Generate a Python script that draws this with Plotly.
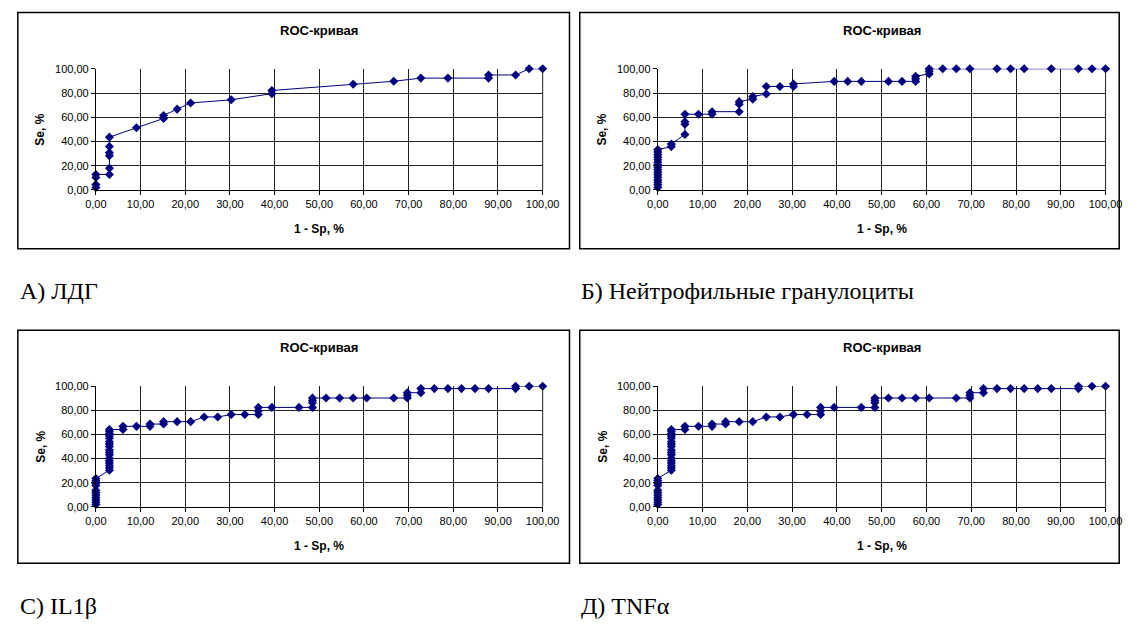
import plotly.graph_objects as go

# ---- data ----
ldg_x = [0, 0, 0, 0, 3.03, 3.03, 3.03, 3.03, 3.03, 3.03, 9.09, 15.15, 15.15, 18.18, 21.21,
         30.30, 39.39, 39.39, 57.58, 66.67, 72.73, 78.79, 87.88, 87.88, 93.94, 96.97, 100]
ldg_y = [2.0, 4.5, 10.3, 12.8, 12.8, 17.9, 28.2, 30.8, 35.9, 43.6, 51.3, 59.0, 61.5, 66.7, 71.8,
         74.4, 79.5, 82.1, 87.2, 89.7, 92.3, 92.3, 92.3, 94.9, 94.9, 100, 100]

neu_x = [0] * 16 + [3.03, 3.03, 6.06, 6.06, 6.06, 6.06, 9.09, 12.12, 12.12, 18.18, 18.18, 18.18,
                    21.21, 21.21, 24.24, 24.24, 27.27, 30.30, 30.30, 39.39, 42.42, 45.45, 51.52,
                    54.55, 57.58, 57.58, 57.58, 60.61, 60.61, 60.61, 63.64, 66.67, 69.70, 75.76,
                    78.79, 81.82, 87.88, 93.94, 96.97, 100]
neu_y = [2.1, 4.2, 6.3, 8.3, 10.4, 12.5, 14.6, 16.7, 18.8, 20.8, 22.9, 25.0, 27.1, 29.2, 31.3, 33.3,
         35.8, 37.9, 45.8, 54.2, 56.3, 62.5, 62.5, 62.5, 64.6, 64.6, 70.8, 72.9,
         75.0, 77.1, 79.2, 85.4, 85.4, 85.4, 87.5, 89.6, 89.6, 89.6, 89.6,
         89.6, 89.6, 91.7, 93.8, 95.8, 97.9, 100, 100, 100, 100, 100,
         100, 100, 100, 100, 100, 100]

il1_x = [0] * 11 + [3.03] * 17 + [6.06, 6.06, 9.09, 12.12, 12.12, 15.15, 15.15, 18.18, 21.21,
                                  24.24, 27.27, 30.30, 33.33, 36.36, 36.36, 36.36, 39.39, 45.45,
                                  48.48, 48.48, 48.48, 48.48, 51.52, 54.55, 57.58, 60.61, 66.67,
                                  69.70, 69.70, 69.70, 72.73, 72.73, 75.76, 78.79, 81.82, 84.85,
                                  87.88, 93.94, 93.94, 96.97, 100]
il1_y = [1.9, 3.9, 5.9, 7.8, 9.8, 11.8, 13.7, 17.6, 19.6, 21.6, 23.5,
         30.4, 32.4, 34.3, 36.3, 38.2, 40.2, 43.1, 45.1, 47.1, 50.0, 52.0, 53.9, 56.9, 58.8, 60.8,
         62.7, 64.1,
         64.1, 66.7, 66.7, 66.7, 68.6, 68.6, 70.6, 70.6, 70.6,
         74.5, 74.5, 76.5, 76.5, 76.5, 79.4, 82.4, 82.4, 82.4,
         82.4, 86.3, 88.2, 90.2, 90.2, 90.2, 90.2, 90.2, 90.2,
         90.2, 92.2, 94.6, 94.6, 98.0, 98.0, 98.0, 98.0, 98.0,
         98.0, 98.0, 100, 100, 100]

tnf_x = list(il1_x)
tnf_y = list(il1_y)

panel_labels = ["А) ЛДГ", "Б) Нейтрофильные гранулоциты", "С) IL1β", "Д) TNFα"]
chart_title = "ROC-кривая"
x_title = "1 - Sp, %"
y_title = "Se, %"
tick_vals_x = [0, 10, 20, 30, 40, 50, 60, 70, 80, 90, 100]
tick_vals_y = [0, 20, 40, 60, 80, 100]

W, H = 1145, 635
NAVY = "#000080"
SANS = "Liberation Sans, Arial"


def px(x):
    return x / W


def py(y):
    return 1 - y / H


# plot-area pixel boxes: (left, right, top, bottom)
areas = [(87, 545, 64, 187.5), (663, 1122, 64, 187.5),
         (87, 545, 387.5, 510.5), (663, 1122, 387.5, 510.5)]
boxes = [(7, 572.5, 6.5, 247.5), (583, 1136, 6.5, 247.5),
         (7, 572.5, 330.5, 568), (583, 1136, 330.5, 568)]
label_pos = [(7, 290), (582, 290), (7, 612), (582, 612)]

series = [(ldg_x, ldg_y), (neu_x, neu_y), (il1_x, il1_y), (tnf_x, tnf_y)]

fig = go.Figure()
shapes = []
annotations = []
layout_axes = {}

for i, ((xs, ys), (l, r, t, b), (bl, br, bt, bb), (lx, ly)) in enumerate(
        zip(series, areas, boxes, label_pos)):
    n = i + 1
    xa = "x" if n == 1 else f"x{n}"
    ya = "y" if n == 1 else f"y{n}"
    fig.add_trace(go.Scatter(
        x=xs, y=ys, xaxis=xa, yaxis=ya, mode="lines+markers",
        line=dict(color=NAVY, width=1),
        marker=dict(symbol="diamond", size=7, color=NAVY),
        cliponaxis=False, showlegend=False, hoverinfo="skip"))
    common = dict(showgrid=True, gridcolor="#202020", gridwidth=1,
                  showline=True, linecolor="black", linewidth=1,
                  ticks="outside", ticklen=4, tickcolor="black",
                  tickformat=".2f", zeroline=False,
                  tickfont=dict(family=SANS, size=11, color="black"))
    layout_axes[("xaxis" if n == 1 else f"xaxis{n}")] = dict(
        common, domain=[px(l), px(r)], range=[0, 100], tickvals=tick_vals_x,
        anchor=ya, mirror=False)
    layout_axes[("yaxis" if n == 1 else f"yaxis{n}")] = dict(
        common, domain=[py(b), py(t)], range=[0, 100], tickvals=tick_vals_y,
        anchor=xa)
    # border around the whole chart
    shapes.append(dict(type="rect", xref="paper", yref="paper",
                       x0=px(bl), x1=px(br), y0=py(bb), y1=py(bt),
                       line=dict(color="black", width=1.5)))
    # right edge of plot area
    shapes.append(dict(type="line", xref="paper", yref="paper",
                       x0=px(r), x1=px(r), y0=py(b), y1=py(t),
                       line=dict(color="#202020", width=1)))
    cx = (l + r) / 2
    annotations.append(dict(text=f"<b>{chart_title}</b>", x=px(cx), y=py(t - 39),
                            xref="paper", yref="paper", showarrow=False,
                            xanchor="center", yanchor="middle",
                            font=dict(family=SANS, size=13, color="black")))
    annotations.append(dict(text=f"<b>{x_title}</b>", x=px(cx), y=py(b + 40),
                            xref="paper", yref="paper", showarrow=False,
                            xanchor="center", yanchor="middle",
                            font=dict(family=SANS, size=12, color="black")))
    annotations.append(dict(text=f"<b>{y_title}</b>", x=px(l - 57), y=py((t + b) / 2),
                            xref="paper", yref="paper", showarrow=False, textangle=-90,
                            xanchor="center", yanchor="middle",
                            font=dict(family=SANS, size=12, color="black")))
    annotations.append(dict(text=panel_labels[i], x=px(lx), y=py(ly),
                            xref="paper", yref="paper", showarrow=False,
                            xanchor="left", yanchor="middle",
                            font=dict(family="Liberation Serif, Times New Roman", size=24,
                                      color="black")))

fig.update_layout(
    width=W, height=H, margin=dict(l=0, r=0, t=0, b=0),
    paper_bgcolor="white", plot_bgcolor="white",
    separators=", ", shapes=shapes, annotations=annotations,
    **layout_axes)

fig.write_html("out.html")
